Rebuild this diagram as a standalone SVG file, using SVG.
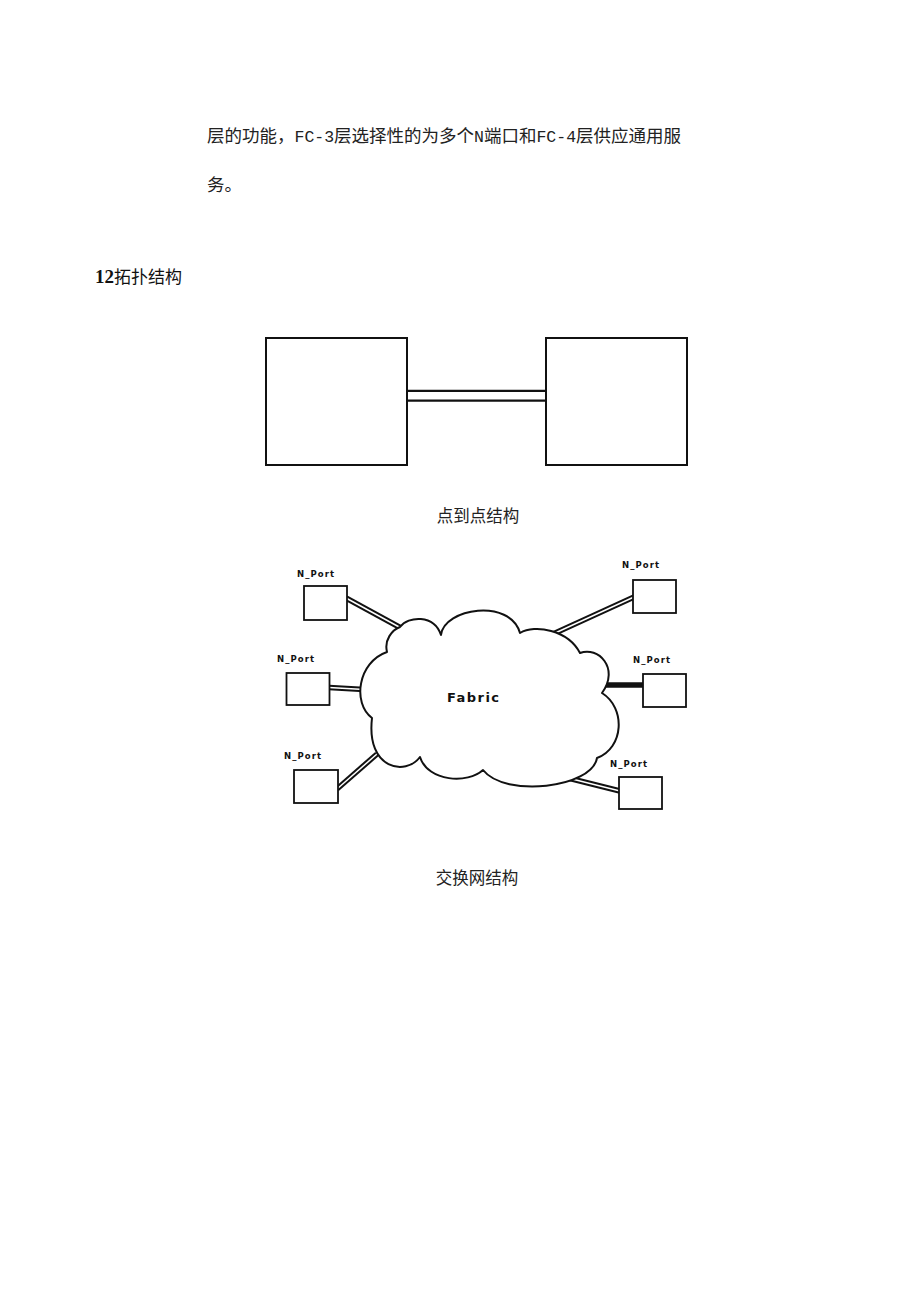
<svg xmlns="http://www.w3.org/2000/svg" width="920" height="1301" viewBox="0 0 920 1301">
<style>
.body{font-family:"Noto Sans CJK SC","Noto Sans",sans-serif;font-size:17.5px;fill:#222}
.mono{font-family:"Liberation Mono",monospace;font-size:16.5px}
.head{font-family:"Noto Sans CJK SC",sans-serif;font-size:17px;fill:#111}
.num{font-family:"Liberation Serif",serif;font-weight:bold;font-size:19px}
.cap{font-family:"Noto Sans CJK SC",sans-serif;font-size:16.5px;fill:#222;text-anchor:middle}
.box{fill:#fff;stroke:#111;stroke-width:2}
.port{fill:#fff;stroke:#111;stroke-width:1.8}
.plabel{font-family:"DejaVu Sans",sans-serif;font-weight:bold;font-size:8.5px;fill:#111}
.fab{font-family:"DejaVu Sans",sans-serif;font-weight:bold;font-size:13px;fill:#111}
.lo{stroke:#111;stroke-width:5.5;fill:none}
.li{stroke:#fff;stroke-width:1.5;fill:none}
.bo{stroke:#111;stroke-width:12;fill:none}
.bi{stroke:#fff;stroke-width:7.5;fill:none}
.cloud{fill:#fff;stroke:#111;stroke-width:2;stroke-linejoin:round}
</style>
<rect width="920" height="1301" fill="#fff"/>
<text class="body" x="207" y="142" textLength="474">层的功能，<tspan class="mono">FC-3</tspan>层选择性的为多个<tspan class="mono">N</tspan>端口和<tspan class="mono">FC-4</tspan>层供应通用服</text>
<text class="body" x="207" y="191">务。</text>
<text class="head" x="95" y="283"><tspan class="num">12</tspan>拓扑结构</text>

<g id="connectors">
  <line class="bo" x1="406" y1="395.7" x2="546" y2="395.7"/>
  <line class="bi" x1="406" y1="395.7" x2="546" y2="395.7"/>
  <line class="lo" x1="346" y1="598" x2="401" y2="628"/>
  <line class="li" x1="346" y1="598" x2="401" y2="628"/>
  <line class="lo" x1="329" y1="687.5" x2="364" y2="689.5"/>
  <line class="li" x1="329" y1="687.5" x2="364" y2="689.5"/>
  <line class="lo" x1="337" y1="789" x2="377" y2="754"/>
  <line class="li" x1="337" y1="789" x2="377" y2="754"/>
  <line class="lo" x1="553" y1="634" x2="634" y2="597"/>
  <line class="li" x1="553" y1="634" x2="634" y2="597"/>
  <line class="lo" x1="604" y1="685" x2="644" y2="685"/>
  <line class="lo" x1="560" y1="776" x2="620" y2="791"/>
  <line class="li" x1="560" y1="776" x2="620" y2="791"/>
</g>

<g id="node-left">
  <rect class="box" x="266" y="338" width="141" height="127"/>
</g>
<g id="node-right">
  <rect class="box" x="546" y="338" width="141" height="127"/>
</g>
<text class="cap" x="478" y="522">点到点结构</text>

<g id="fabric">
  <path class="cloud" d="M400 627 C408 616 434 614 441 635 C444 608 510 598 520 633 C535 624 568 630 580 653 C598 646 620 668 602 693 C626 708 624 748 597 758 C592 788 505 798 483 770 C468 784 428 782 420 757 C406 776 366 770 372 718 C352 703 358 662 387 652 C384 640 392 630 400 627 Z"/>
  <text class="fab" x="447" y="701.5" textLength="52">Fabric</text>
</g>

<g id="port-lt">
  <rect class="port" x="304" y="586" width="43" height="34"/>
  <text class="plabel" x="297" y="577" textLength="37">N_Port</text>
</g>
<g id="port-lm">
  <rect class="port" x="286.5" y="673" width="43" height="32"/>
  <text class="plabel" x="277" y="662" textLength="37">N_Port</text>
</g>
<g id="port-lb">
  <rect class="port" x="294" y="770" width="44" height="33"/>
  <text class="plabel" x="284" y="759" textLength="37">N_Port</text>
</g>
<g id="port-rt">
  <rect class="port" x="633" y="580" width="43" height="33"/>
  <text class="plabel" x="622" y="568" textLength="37">N_Port</text>
</g>
<g id="port-rm">
  <rect class="port" x="643" y="674" width="43" height="33"/>
  <text class="plabel" x="633" y="663" textLength="37">N_Port</text>
</g>
<g id="port-rb">
  <rect class="port" x="619" y="777" width="43" height="32"/>
  <text class="plabel" x="610" y="767" textLength="37">N_Port</text>
</g>

<text class="cap" x="477" y="884">交换网结构</text>
</svg>
